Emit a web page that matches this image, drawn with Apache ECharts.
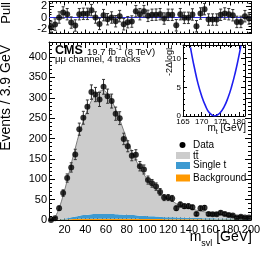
<!DOCTYPE html>
<html><head><meta charset="utf-8">
<script src="https://cdn.jsdelivr.net/npm/echarts@6/dist/echarts.min.js"></script>
<style>html,body{margin:0;padding:0;background:#fff}#c{width:266px;height:253px}</style>
</head><body><div id="c"></div>
<script>
// ---- data ----
const binLow = 5, binWidth = 3.9;               // m_svl binning [GeV]
const dataCounts = [0, 4, 29, 66, 103, 129, 161, 223, 251, 278, 314, 308, 296, 327, 304, 292, 261, 250, 199, 181,
  158, 160, 132, 124, 98, 90, 82, 69, 55, 55, 53, 29, 38, 34, 34, 31, 15, 29, 30, 15,
  14, 14, 18, 15, 12, 11, 6, 8, 6, 6];
const dataErrors = [1, 2, 5.4, 8.1, 10.1, 11.4, 12.7, 14.9, 15.8, 16.7, 17.7, 17.5, 17.2, 18.1, 17.4, 17.1, 16.2, 15.8, 14.1, 13.5,
  12.6, 12.6, 11.5, 11.1, 9.9, 9.5, 9.1, 8.3, 7.4, 7.4, 7.3, 5.4, 6.2, 5.8, 5.8, 5.6, 3.9, 5.4, 5.5, 3.9,
  3.7, 3.7, 4.2, 3.9, 3.5, 3.3, 2.4, 2.8, 2.4, 2.4];
const ttbarValues = [3, 7.5, 27.5, 57, 92.5, 131.5, 167.5, 202.5, 231, 257, 279, 293.5, 301, 303, 295, 278.5, 258, 233.5, 206, 180.5,
  156, 135.5, 117.5, 102, 87.5, 77, 68.5, 58, 51, 45.5, 40.5, 34, 30, 27.5, 24.5, 22, 19, 17, 16, 13,
  12, 11.5, 10.5, 8.5, 7.5, 7, 6, 5.5, 4.5, 3.5];
const singleTopValues = [0, 0.3, 1, 2, 3, 4.5, 6, 7.5, 9, 10, 11, 11.5, 12, 12, 12, 11.5, 11, 10.5, 10, 9.5,
  9, 8.5, 8, 7.5, 7, 6.5, 6, 5.5, 5, 4.5, 4.5, 4, 4, 3.5, 3.5, 3, 3, 3, 2.5, 2.5,
  2.5, 2, 2, 2, 2, 1.5, 1.5, 1.5, 1.5, 1.5];
const backgroundValues = [0, 0.2, 0.5, 1, 1.5, 2, 2.5, 3, 3, 3, 3, 3, 3, 3, 3, 3, 3, 3, 3, 3,
  3, 3, 2.5, 2.5, 2.5, 2.5, 2.5, 2.5, 2, 2, 2, 2, 2, 2, 2, 2, 2, 2, 1.5, 1.5,
  1.5, 1.5, 1.5, 1.5, 1.5, 1.5, 1.5, 1, 1, 1];
const pullValues = [-1.65, -1.24, 0, 0.88, 0.58, -0.88, -1.4, 0.58, 0.64, 0.64, 1.29, 0, -1.12, 0.41, -0.3, 0, -0.65, 0.24, -1.18, -0.82,
  -0.71, 1.11, 0.58, 1.11, 0.29, 0.47, 0.5, 0.58, -0.18, 0.47, 0.47, -1.36, 0.58, -0.06, -0.06, 0.53, -1.53, 0.7, 1.46, -0.36,
  -0.36, -0.36, 0.47, 0.7, 0.58, 0.4, -0.77, -0.77, 0.23, -0.18];
const pullErrors = pullValues.map(() => 1);
const insetMt = [167, 167.5, 168, 169, 170, 171, 172, 173, 173.5, 174, 175, 176, 177, 178, 179, 180, 180.5];
const insetNll = [12.0, 10.2, 8.6, 5.7, 3.5, 1.8, 0.6, 0.1, 0, 0.1, 0.6, 1.6, 3.1, 5.1, 7.6, 10.6, 12.3];
const xTickLabels = [20, 40, 60, 80, 100, 120, 140, 160, 180, 200];
const yTickLabels = [0, 50, 100, 150, 200, 250, 300, 350, 400];
const pullTickLabels = [-2, 0, 2];
const insetXTickLabels = [165, 170, 175, 180];
const insetYTickLabels = [0, 5, 10];

// ---- derived helpers ----
const binCenters = dataCounts.map((_, i) => +(binLow + binWidth * (i + 0.5)).toFixed(3));
const pairs = arr => binCenters.map((x, i) => [x, arr[i]]);
const triples = (a, e) => binCenters.map((x, i) => [x, a[i], e[i]]);
const range = (a, b, s) => { const r = []; for (let v = a; v <= b + 1e-9; v += s) r.push(+v.toFixed(4)); return r; };
const xMinor = range(8, 200, 4);
const yMinor = range(0, 430, 10);
const insetXMinor = range(165, 181, 1);
const insetYMinor = range(0, 12, 1);
const pullYMinor = range(-2.5, 2.5, 0.5);

const F = '"Liberation Sans", Arial, Helvetica, sans-serif';

function ax(grid, pos, min, max, o) {
  return {
    type: 'value', gridIndex: grid, position: pos, min: min, max: max,
    axisLine: { show: o.line !== false, onZero: false, lineStyle: { color: '#000', width: 1 } },
    axisTick: { show: true, inside: true, length: o.len || 5, customValues: o.ticks, lineStyle: { color: '#000', width: 1 } },
    axisLabel: o.labels ? { show: true, customValues: o.labels, fontSize: o.fs || 11, fontFamily: F, color: '#000', margin: o.margin == null ? 3 : o.margin } : { show: false },
    splitLine: { show: false }, minorTick: { show: false }, splitArea: { show: false }
  };
}

const gPull = { left: 49, top: 1.5, width: 202, height: 32 };
const gMain = { left: 49, top: 42, width: 202, height: 178 };
const gInset = { left: 183, top: 45, width: 62, height: 71 };
const grid = [gPull, gMain, gMain, gInset, gInset, gPull, gMain].map(g => Object.assign({ outerBoundsMode: 'none', containLabel: false }, g));

const xAxis = [
  ax(0, 'bottom', 5, 200, { ticks: xTickLabels, len: 4 }),
  ax(0, 'top', 5, 200, { ticks: xTickLabels, len: 4 }),
  ax(1, 'bottom', 5, 200, { ticks: xTickLabels, len: 6, labels: xTickLabels, margin: 4 }),
  ax(1, 'top', 5, 200, { ticks: xTickLabels, len: 6 }),
  ax(2, 'bottom', 5, 200, { ticks: xMinor, len: 3, line: false }),
  ax(2, 'top', 5, 200, { ticks: xMinor, len: 3, line: false }),
  ax(3, 'bottom', 165, 181.6, { ticks: insetXTickLabels, len: 4, labels: insetXTickLabels, fs: 8, margin: 2 }),
  ax(3, 'top', 165, 181.6, { ticks: insetXTickLabels, len: 4 }),
  ax(4, 'bottom', 165, 181.6, { ticks: insetXMinor, len: 2, line: false }),
  ax(4, 'top', 165, 181.6, { ticks: insetXMinor, len: 2, line: false }),
  ax(5, 'bottom', 5, 200, { ticks: xMinor, len: 2, line: false }),
  ax(5, 'top', 5, 200, { ticks: xMinor, len: 2, line: false }),
  // category axis (one band per bin) used for the stacked simulation
  { type: 'category', gridIndex: 6, data: binCenters.map(String), boundaryGap: true, show: false }
];
const yAxis = [
  ax(0, 'left', -2.8, 2.8, { ticks: pullTickLabels, len: 5, labels: pullTickLabels, margin: 2 }),
  ax(0, 'right', -2.8, 2.8, { ticks: pullTickLabels, len: 5 }),
  ax(1, 'left', 0, 437, { ticks: yTickLabels, len: 6, labels: yTickLabels, margin: 2 }),
  ax(1, 'right', 0, 437, { ticks: yTickLabels, len: 6 }),
  ax(2, 'left', 0, 437, { ticks: yMinor, len: 3, line: false }),
  ax(2, 'right', 0, 437, { ticks: yMinor, len: 3, line: false }),
  ax(3, 'left', 0, 12.4, { ticks: insetYTickLabels, len: 4, labels: insetYTickLabels, fs: 8, margin: 2 }),
  ax(3, 'right', 0, 12.4, { ticks: insetYTickLabels, len: 4 }),
  ax(4, 'left', 0, 12.4, { ticks: insetYMinor, len: 2, line: false }),
  ax(4, 'right', 0, 12.4, { ticks: insetYMinor, len: 2, line: false }),
  ax(5, 'left', -2.8, 2.8, { ticks: pullYMinor, len: 2.5, line: false }),
  ax(5, 'right', -2.8, 2.8, { ticks: pullYMinor, len: 2.5, line: false }),
  { type: 'value', gridIndex: 6, min: 0, max: 437, show: false, splitLine: { show: false } }
];

function errorBars(xi, yi, data, color, cap) {
  return {
    type: 'custom', xAxisIndex: xi, yAxisIndex: yi, data: data, clip: true, z: 4, silent: true,
    encode: { x: 0, y: 1 },
    renderItem: function (params, api) {
      const x = api.value(0), y = api.value(1), e = api.value(2);
      const hi = api.coord([x, y + e]), lo = api.coord([x, y - e]);
      const st = { stroke: color, lineWidth: 1 };
      return {
        type: 'group', children: [
          { type: 'line', shape: { x1: hi[0], y1: hi[1], x2: lo[0], y2: lo[1] }, style: st },
          { type: 'line', shape: { x1: hi[0] - cap, y1: hi[1], x2: hi[0] + cap, y2: hi[1] }, style: st },
          { type: 'line', shape: { x1: lo[0] - cap, y1: lo[1], x2: lo[0] + cap, y2: lo[1] }, style: st }
        ]
      };
    }
  };
}

const mc = (name, values, color, line) => ({
  type: 'line', name: name, xAxisIndex: 12, yAxisIndex: 12, stack: 'mc', data: values, smooth: 0.35, symbol: 'none',
  lineStyle: line || { width: 0 }, areaStyle: { color: color, opacity: 1 }, z: 1, silent: true
});

const series = [
  mc('Background', backgroundValues, '#ff9900'),
  mc('Single t', singleTopValues, '#3d9ad1'),
  mc('ttbar', ttbarValues, '#cccccc', { width: 1, color: '#7d7d7d' }),
  errorBars(2, 2, triples(dataCounts, dataErrors), '#333', 1.5),
  { type: 'scatter', name: 'Data', xAxisIndex: 2, yAxisIndex: 2, data: pairs(dataCounts), symbol: 'circle', symbolSize: 6,
    itemStyle: { color: '#000' }, z: 5, silent: true },
  errorBars(0, 0, triples(pullValues, pullErrors), '#333', 1.5),
  { type: 'scatter', name: 'Pull', xAxisIndex: 0, yAxisIndex: 0, data: pairs(pullValues), symbol: 'circle', symbolSize: 6,
    itemStyle: { color: '#000' }, z: 5, silent: true,
    markLine: { silent: true, symbol: 'none', label: { show: false }, lineStyle: { color: '#2b2bd9', width: 1, type: 'solid' }, data: [{ yAxis: 0 }], z: 2 } },
  { type: 'line', name: 'nll', xAxisIndex: 6, yAxisIndex: 6, data: insetMt.map((m, i) => [m, insetNll[i]]), smooth: 0.5, symbol: 'none',
    clip: true, lineStyle: { color: '#1f1ff0', width: 1.6 }, z: 3 }
];

const graphic = [
  { type: 'text', x: 6, y: 45, rotation: Math.PI / 2, style: { text: 'Events / 3.9 GeV', font: '14px ' + F, fill: '#000', align: 'right', verticalAlign: 'middle' } },
  { type: 'text', x: 6, y: 2, rotation: Math.PI / 2, style: { text: 'Pull', font: '13px ' + F, fill: '#000', align: 'right', verticalAlign: 'middle' } },
  { type: 'text', x: 252, y: 248, style: { text: '{m|m}{s|svl}{m| [GeV]}', align: 'right', verticalAlign: 'bottom',
      rich: { m: { fontSize: 14, fontFamily: F, fill: '#000', lineHeight: 18, verticalAlign: 'top' }, s: { fontSize: 9, fontFamily: F, fill: '#000', lineHeight: 18, verticalAlign: 'bottom' } } } },
  { type: 'text', x: 55, y: 51, style: { text: 'CMS', font: 'bold 12.5px ' + F, fill: '#000', align: 'left', verticalAlign: 'middle' } },
  { type: 'text', x: 87, y: 51, style: { text: '{a|19.7 fb}{s|-1}{a| (8 TeV)}', align: 'left', verticalAlign: 'middle',
      rich: { a: { fontSize: 9.5, fontFamily: F, fill: '#000', lineHeight: 12, verticalAlign: 'bottom' }, s: { fontSize: 6.5, fontFamily: F, fill: '#000', lineHeight: 12, verticalAlign: 'top' } } } },
  { type: 'text', x: 55, y: 59, style: { text: 'μμ channel, 4 tracks', font: '9.5px ' + F, fill: '#000', align: 'left', verticalAlign: 'middle' } },
  { type: 'text', x: 170, y: 45, rotation: Math.PI / 2, style: { text: '-2ΔlogL', font: '9px ' + F, fill: '#000', align: 'right', verticalAlign: 'middle' } },
  { type: 'text', x: 246, y: 136, style: { text: '{m|m}{s|t}{m| [GeV]}', align: 'right', verticalAlign: 'bottom',
      rich: { m: { fontSize: 10, fontFamily: F, fill: '#000', lineHeight: 13, verticalAlign: 'top' }, s: { fontSize: 7, fontFamily: F, fill: '#000', lineHeight: 13, verticalAlign: 'bottom' } } } },
  // legend
  { type: 'circle', shape: { cx: 182.5, cy: 145, r: 3 }, style: { fill: '#000' } },
  { type: 'text', x: 193, y: 145, style: { text: 'Data', font: '10px ' + F, fill: '#000', align: 'left', verticalAlign: 'middle' } },
  { type: 'rect', shape: { x: 176, y: 152, width: 14, height: 7 }, style: { fill: '#cccccc' } },
  { type: 'text', x: 193, y: 156, style: { text: 'tt\u0304', font: '10px ' + F, fill: '#000', align: 'left', verticalAlign: 'middle' } },
  { type: 'rect', shape: { x: 176, y: 162, width: 14, height: 7 }, style: { fill: '#3d9ad1' } },
  { type: 'text', x: 193, y: 165.5, style: { text: 'Single t', font: '10px ' + F, fill: '#000', align: 'left', verticalAlign: 'middle' } },
  { type: 'rect', shape: { x: 176, y: 174.5, width: 14, height: 7 }, style: { fill: '#ff9900' } },
  { type: 'text', x: 193, y: 178, style: { text: 'Background', font: '10px ' + F, fill: '#000', align: 'left', verticalAlign: 'middle' } }
];

const chart = echarts.init(document.getElementById('c'), null, { renderer: 'canvas' });
chart.setOption({
  animation: false,
  backgroundColor: '#fff',
  textStyle: { fontFamily: F },
  grid: grid, xAxis: xAxis, yAxis: yAxis, series: series, graphic: graphic
});
</script>
</body></html>
